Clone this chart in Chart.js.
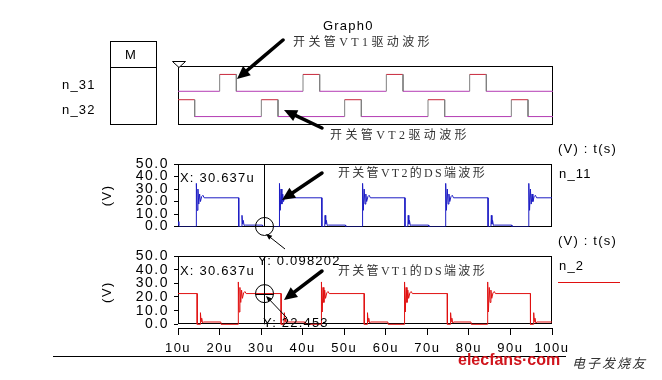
<!DOCTYPE html>
<html>
<head>
<meta charset="utf-8">
<script src="https://cdn.jsdelivr.net/npm/chart.js@4.4.1/dist/chart.umd.min.js"></script>
<style>
body { margin: 0; background: #fff; }
#page { position: relative; width: 662px; height: 380px; overflow: hidden; background: #fff; }
canvas { position: absolute; }
svg { position: absolute; left: 0; top: 0; }
.t { position: absolute; white-space: nowrap; line-height: 1; transform: translateY(-50%);
     font-family: "Liberation Sans", Arial, sans-serif; font-size: 13px; color: #000; letter-spacing: 1.2px; }
.cn { font-family: "Liberation Serif", "Noto Sans CJK SC", serif; font-size: 12px; color: #333; letter-spacing: 3.4px; }
.ds { letter-spacing: 2.3px; }
</style>
</head>
<body>
<div id="page">
  <canvas id="digital" width="375" height="59" style="left:178px;top:66px"></canvas>
  <canvas id="chartN11" width="500" height="90" style="left:90px;top:150px"></canvas>
  <canvas id="chartN2" width="500" height="125" style="left:90px;top:240px"></canvas>

  <svg id="marks" width="662" height="380">
    <rect x="110.5" y="41.5" width="46" height="83" fill="none" stroke="#000"/>
    <line x1="110.5" y1="67.5" x2="156.5" y2="67.5" stroke="#000"/>
    <polygon points="172.5,61.5 185.5,61.5 179,67.5" fill="#fff" stroke="#000"/>
    <line x1="53" y1="356.5" x2="566" y2="356.5" stroke="#000"/>
    <line x1="558" y1="282.5" x2="620" y2="282.5" stroke="#e01010"/>
  </svg>

  <div class="t" style="left:323px;top:25px">Graph0</div>
  <div class="t cn" style="left:293px;top:42px">开关管VT1驱动波形</div>
  <div class="t cn" style="left:330px;top:135px">开关管VT2驱动波形</div>
  <div class="t" style="left:125px;top:54px">M</div>
  <div class="t" style="left:62px;top:84px">n_31</div>
  <div class="t" style="left:62px;top:109px">n_32</div>
  <div class="t" style="left:558px;top:148px">(V) : t(s)</div>
  <div class="t" style="left:558px;top:240px">(V) : t(s)</div>
  <div class="t" style="left:559px;top:173px">n_11</div>
  <div class="t" style="left:559px;top:265px">n_2</div>
  <div class="t" style="left:180px;top:177px">X: 30.637u</div>
  <div class="t" style="left:180px;top:270px">X: 30.637u</div>
  <div class="t cn ds" style="left:338px;top:173px">开关管VT2的DS端波形</div>
  <div class="t cn ds" style="left:338px;top:271px">开关管VT1的DS端波形</div>
  <div class="t" style="left:258px;top:260px">Y: 0.098202</div>
  <div class="t" style="left:263px;top:322px">Y: 22.453</div>
  <div class="t" style="left:458px;top:360px;color:#d0141c;font-weight:bold;font-size:16px;letter-spacing:0">elecfans·com</div>
  <div class="t" style="left:572px;top:362px;color:#333;font-family:'Noto Sans CJK SC';font-size:13px;letter-spacing:2px;font-style:italic">电子发烧友</div>
</div>

<script>
const timeTicks = [10, 20, 30, 40, 50, 60, 70, 80, 90, 100];
const voltTicks = [0, 10, 20, 30, 40, 50];

// gate drive pulses (us)
const n31On = [20, 40, 60, 80];
const n31Off = [24, 44, 64, 84];
const n32On = [10, 30, 50, 70, 90];
const n32Off = [14, 34, 54, 74, 94];

// DS waveforms, edge times (us)
const n11Rise = [14.4, 34.4, 54.4, 74.4, 94.4];
const n11Fall = [24.6, 44.6, 64.6, 84.6];
const n2Rise = [24.5, 44.5, 64.5, 84.5];
const n2Fall = [14.6, 34.8, 54.8, 74.8, 94.8];

// ringing after each edge: time after the edge (us) and volts
const riseDt = [0, 0.02, 0.2, 0.4, 0.6, 0.8, 1.0, 1.3, 1.6, 1.9];
const n11RiseV = [0, 34.5, 13, 30, 18, 26, 20, 24, 25, 23];
const n2RiseV = [0, 31, 9, 27, 16, 25, 19, 23, 24, 22.5];
const fallDt = [0, 0.02, 0.7, 0.8, 0.95, 1.1, 1.3, 1.6, 5.7, 5.75];
const n11FallV = [23, 0, 0, 9, 2, 5, 1, 1.2, 1.2, 0];
const n2FallV = [22.5, 0, 0, 8.5, 2, 4.5, 1, 1.7, 1.7, 0];
const n11Start = [[10, 4], [10.2, 1.2], [10.3, 0]];
const n2Start = [[10, 22.5]];

const cursorX = 30.637;
const n11CursorY = 0.098202;
const n2CursorY = 22.453;

function buildTrace(start, rises, falls, riseV, fallV) {
    const events = [];
    rises.forEach(t => events.push({ t, v: riseV, dt: riseDt }));
    falls.forEach(t => events.push({ t, v: fallV, dt: fallDt }));
    events.sort((a, b) => a.t - b.t);
    const pts = start.map(p => ({ x: p[0], y: p[1] }));
    events.forEach(e => e.dt.forEach((d, i) => {
        if (e.t + d <= 100) pts.push({ x: e.t + d, y: e.v[i] });
    }));
    const last = pts[pts.length - 1];
    if (last.x < 100) pts.push({ x: 100, y: last.y });
    return pts;
}

function buildDrive(on, off, lo, hi) {
    const pts = [];
    if (on[0] > 10) pts.push({ x: 10, y: lo });
    on.forEach((t, i) => {
        if (t > 10) pts.push({ x: t, y: lo });
        pts.push({ x: t, y: hi }, { x: off[i], y: hi }, { x: off[i], y: lo });
    });
    pts.push({ x: 100, y: lo });
    return pts;
}

const driveSegment = hi => ({
    borderColor: c => c.p0.parsed.x === c.p1.parsed.x ? '#808080'
        : (c.p0.parsed.y === hi ? '#c8283c' : '#b43cb4')
});

const spacingPlugin = {
    id: 'spacing',
    beforeDraw(chart) { chart.ctx.letterSpacing = '1.5px'; }
};

const framePlugin = {
    id: 'frame',
    beforeDatasetsDraw(chart) {
        const { ctx, chartArea: a, scales } = chart;
        const bottom = scales.y.getPixelForValue(Math.max(scales.y.min, 0));
        const x0 = Math.round(a.left) + 0.5, y0 = Math.round(a.top) + 0.5;
        const x1 = Math.round(a.right) - 0.5, y1 = Math.round(bottom) - 0.5;
        ctx.save();
        ctx.strokeStyle = '#000';
        ctx.lineWidth = 1;
        ctx.strokeRect(x0, y0, x1 - x0, y1 - y0);
        ctx.restore();
    }
};

const cursorPlugin = {
    id: 'cursor',
    afterDatasetsDraw(chart, args, opts) {
        const { ctx, chartArea: a, scales: { x, y } } = chart;
        const px = Math.round(x.getPixelForValue(opts.x)) + 0.5;
        const py = y.getPixelForValue(opts.y);
        ctx.save();
        ctx.strokeStyle = '#000';
        ctx.lineWidth = 1;
        ctx.beginPath();
        ctx.moveTo(px, a.top);
        ctx.lineTo(px, y.getPixelForValue(0));
        ctx.stroke();
        ctx.beginPath();
        ctx.arc(px, py, 9, 0, Math.PI * 2);
        ctx.moveTo(px - 9, Math.round(py) + 0.5);
        ctx.lineTo(px + 9, Math.round(py) + 0.5);
        ctx.stroke();
        ctx.restore();
    }
};

const yScale = min => ({
    min, max: 50,
    afterBuildTicks: s => { s.ticks = voltTicks.map(v => ({ value: v })); },
    afterFit: s => { s.width = 88; },
    ticks: { callback: v => v.toFixed(1), color: '#000', font: { size: 14 }, padding: 5, autoSkip: false },
    grid: { drawOnChartArea: false, tickLength: 4, color: '#000' },
    border: { display: false },
    title: { display: true, text: '(V)', color: '#000', font: { size: 13 }, padding: { top: 10, bottom: 0 } }
});

const baseOptions = {
    responsive: false,
    animation: false,
    devicePixelRatio: 1,
    events: []
};

Chart.defaults.font.family = '"Liberation Sans", Arial, sans-serif';
Chart.defaults.color = '#000';

new Chart(document.getElementById('digital'), {
    type: 'line',
    data: {
        datasets: [
            { label: 'n_31', data: buildDrive(n31On, n31Off, 2, 3), segment: driveSegment(3), borderWidth: 1, pointRadius: 0 },
            { label: 'n_32', data: buildDrive(n32On, n32Off, 0.5, 1.5), segment: driveSegment(1.5), borderWidth: 1, pointRadius: 0 }
        ]
    },
    options: {
        ...baseOptions,
        layout: { padding: 0 },
        plugins: { legend: { display: false }, tooltip: { enabled: false } },
        scales: {
            x: { type: 'linear', display: false, min: 10, max: 100 },
            y: { display: false, min: 0, max: 3.5 }
        }
    },
    plugins: [framePlugin]
});

new Chart(document.getElementById('chartN11'), {
    type: 'line',
    data: {
        datasets: [{
            label: 'n_11',
            data: buildTrace(n11Start, n11Rise, n11Fall, n11RiseV, n11FallV),
            borderColor: '#1c1cc4', borderWidth: 1, pointRadius: 0, tension: 0
        }]
    },
    options: {
        ...baseOptions,
        layout: { padding: { left: 0, right: 38, top: 14, bottom: 9 } },
        plugins: { legend: { display: false }, tooltip: { enabled: false }, cursor: { x: cursorX, y: n11CursorY } },
        scales: {
            x: { type: 'linear', display: false, min: 10, max: 100 },
            y: yScale(0)
        }
    },
    plugins: [spacingPlugin, framePlugin, cursorPlugin]
});

new Chart(document.getElementById('chartN2'), {
    type: 'line',
    data: {
        datasets: [{
            label: 'n_2',
            data: buildTrace(n2Start, n2Rise, n2Fall, n2RiseV, n2FallV),
            borderColor: '#e01010', borderWidth: 1, pointRadius: 0, tension: 0
        }]
    },
    options: {
        ...baseOptions,
        layout: { padding: { left: 0, right: 38, top: 16, bottom: 0 } },
        plugins: { legend: { display: false }, tooltip: { enabled: false }, cursor: { x: cursorX, y: n2CursorY } },
        scales: {
            x: {
                type: 'linear', min: 10, max: 100,
                afterBuildTicks: s => { s.ticks = timeTicks.map(v => ({ value: v })); },
                afterFit: s => { s.height = 37; },
                ticks: { callback: v => v + 'u', color: '#000', font: { size: 13 }, padding: 6, maxRotation: 0, autoSkip: false },
                grid: { drawOnChartArea: false, tickLength: 7, color: '#000' },
                border: { display: true, color: '#000' }
            },
            y: yScale(-2.7)
        }
    },
    plugins: [spacingPlugin, framePlugin, cursorPlugin]
});

// annotation arrows
const svg = document.getElementById('marks');
const NS = 'http://www.w3.org/2000/svg';
function addArrow(tx, ty, hx, hy, bold) {
    const dx = hx - tx, dy = hy - ty, len = Math.hypot(dx, dy);
    const ux = dx / len, uy = dy / len;
    const headL = bold ? 13 : 6, headW = bold ? 6 : 2.5;
    const bx = hx - ux * headL, by = hy - uy * headL;
    const line = document.createElementNS(NS, 'line');
    line.setAttribute('x1', tx); line.setAttribute('y1', ty);
    line.setAttribute('x2', bx + ux); line.setAttribute('y2', by + uy);
    line.setAttribute('stroke', '#000');
    line.setAttribute('stroke-width', bold ? 3.5 : 1);
    line.setAttribute('stroke-linecap', bold ? 'round' : 'butt');
    svg.appendChild(line);
    const head = document.createElementNS(NS, 'polygon');
    head.setAttribute('points', [hx, hy, bx - uy * headW, by + ux * headW, bx + uy * headW, by - ux * headW].join(','));
    head.setAttribute('fill', '#000');
    svg.appendChild(head);
}
addArrow(283, 40, 237, 79, true);
addArrow(322, 128, 284, 110, true);
addArrow(322, 173, 282, 200, true);
addArrow(322, 271, 284, 300, true);
addArrow(285, 249, 266, 234, false);
addArrow(287, 318, 266, 296, false);
</script>
</body>
</html>
